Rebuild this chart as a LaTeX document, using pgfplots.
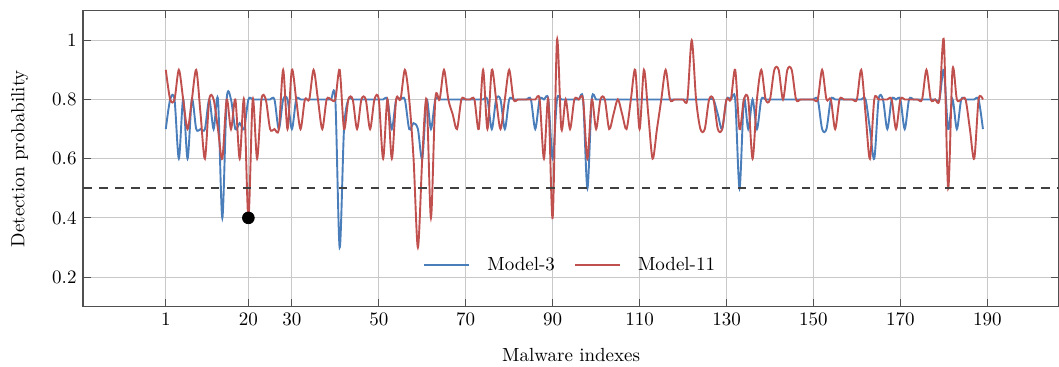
\documentclass[border=0pt]{standalone}
\usepackage{pgfplots}
\pgfplotsset{compat=1.18}
\usepackage{pgfplotstable}
\definecolor{mblue}{RGB}{74,126,187}
\definecolor{mred}{RGB}{192,80,77}
\definecolor{gridc}{RGB}{200,200,200}
\definecolor{axc}{RGB}{80,80,80}

\pgfplotstableread{
x y
1 0.7
2 0.8
3 0.8
4 0.6
5 0.8
6 0.6
7 0.8
8 0.7
9 0.7
10 0.7
11 0.8
12 0.7
13 0.8
14 0.4
15 0.8
16 0.8
17 0.7
18 0.72
19 0.7
20 0.8
21 0.8
22 0.8
23 0.8
24 0.8
25 0.8
26 0.8
27 0.7
28 0.8
29 0.8
30 0.7
31 0.8
32 0.8
33 0.8
34 0.8
35 0.8
36 0.8
37 0.8
38 0.8
39 0.8
40 0.8
41 0.3
42 0.7
43 0.8
44 0.8
45 0.8
46 0.8
47 0.8
48 0.8
49 0.8
50 0.8
51 0.8
52 0.8
53 0.7
54 0.8
55 0.8
56 0.8
57 0.7
58 0.72
59 0.7
60 0.6
61 0.8
62 0.7
63 0.8
64 0.8
65 0.8
66 0.8
67 0.8
68 0.8
69 0.8
70 0.8
71 0.8
72 0.8
73 0.8
74 0.8
75 0.8
76 0.7
77 0.8
78 0.8
79 0.7
80 0.8
81 0.8
82 0.8
83 0.8
84 0.8
85 0.8
86 0.7
87 0.8
88 0.8
89 0.8
90 0.6
91 0.8
92 0.8
93 0.8
94 0.8
95 0.8
96 0.8
97 0.8
98 0.5
99 0.8
100 0.8
101 0.8
102 0.8
103 0.8
104 0.8
105 0.8
106 0.8
107 0.8
108 0.8
109 0.8
110 0.8
111 0.8
112 0.8
113 0.8
114 0.8
115 0.8
116 0.8
117 0.8
118 0.8
119 0.8
120 0.8
121 0.8
122 0.8
123 0.8
124 0.8
125 0.8
126 0.8
127 0.8
128 0.75
129 0.7
130 0.8
131 0.8
132 0.8
133 0.5
134 0.8
135 0.7
136 0.8
137 0.7
138 0.8
139 0.8
140 0.8
141 0.8
142 0.8
143 0.8
144 0.8
145 0.8
146 0.8
147 0.8
148 0.8
149 0.8
150 0.8
151 0.8
152 0.7
153 0.7
154 0.8
155 0.8
156 0.8
157 0.8
158 0.8
159 0.8
160 0.8
161 0.8
162 0.8
163 0.7
164 0.6
165 0.8
166 0.8
167 0.7
168 0.8
169 0.8
170 0.8
171 0.7
172 0.8
173 0.8
174 0.8
175 0.8
176 0.8
177 0.8
178 0.8
179 0.8
180 0.9
181 0.7
182 0.8
183 0.7
184 0.8
185 0.8
186 0.8
187 0.8
188 0.8
189 0.7
}\modelthree

\pgfplotstableread{
x y
1 0.9
2 0.8
3 0.8
4 0.9
5 0.8
6 0.7
7 0.8
8 0.9
9 0.75
10 0.6
11 0.8
12 0.8
13 0.7
14 0.6
15 0.8
16 0.7
17 0.8
18 0.6
19 0.8
20 0.4
21 0.8
22 0.6
23 0.8
24 0.8
25 0.7
26 0.7
27 0.7
28 0.9
29 0.7
30 0.9
31 0.8
32 0.7
33 0.8
34 0.8
35 0.9
36 0.8
37 0.7
38 0.8
39 0.8
40 0.8
41 0.9
42 0.7
43 0.8
44 0.8
45 0.7
46 0.8
47 0.8
48 0.7
49 0.8
50 0.8
51 0.6
52 0.8
53 0.6
54 0.8
55 0.8
56 0.9
57 0.8
58 0.6
59 0.3
60 0.6
61 0.8
62 0.4
63 0.8
64 0.8
65 0.9
66 0.8
67 0.75
68 0.7
69 0.8
70 0.8
71 0.8
72 0.8
73 0.7
74 0.9
75 0.7
76 0.9
77 0.8
78 0.7
79 0.8
80 0.9
81 0.8
82 0.8
83 0.8
84 0.8
85 0.8
86 0.8
87 0.8
88 0.6
89 0.8
90 0.4
91 1.0
92 0.7
93 0.8
94 0.7
95 0.8
96 0.8
97 0.8
98 0.6
99 0.8
100 0.7
101 0.8
102 0.8
103 0.7
104 0.75
105 0.8
106 0.75
107 0.7
108 0.8
109 0.9
110 0.7
111 0.9
112 0.75
113 0.6
114 0.7
115 0.8
116 0.9
117 0.8
118 0.8
119 0.8
120 0.8
121 0.8
122 1.0
123 0.8
124 0.7
125 0.7
126 0.8
127 0.8
128 0.7
129 0.7
130 0.8
131 0.8
132 0.9
133 0.7
134 0.8
135 0.8
136 0.6
137 0.8
138 0.9
139 0.8
140 0.8
141 0.9
142 0.9
143 0.8
144 0.9
145 0.9
146 0.8
147 0.8
148 0.8
149 0.8
150 0.8
151 0.8
152 0.9
153 0.8
154 0.8
155 0.7
156 0.8
157 0.8
158 0.8
159 0.8
160 0.8
161 0.9
162 0.75
163 0.6
164 0.8
165 0.8
166 0.8
167 0.8
168 0.8
169 0.7
170 0.8
171 0.8
172 0.8
173 0.8
174 0.8
175 0.8
176 0.9
177 0.8
178 0.8
179 0.8
180 1.0
181 0.5
182 0.9
183 0.8
184 0.8
185 0.8
186 0.7
187 0.6
188 0.8
189 0.8
}\modeleleven

\begin{document}
\begin{tikzpicture}
\begin{axis}[
  scale only axis,
  width=513.5pt, height=155.8pt,
  xmin=-18, xmax=206.5,
  ymin=0.1, ymax=1.1,
  xtick={1,20,30,50,70,90,110,130,150,170,190},
  ytick={0.2,0.4,0.6,0.8,1},
  yticklabels={0.2,0.4,0.6,0.8,1},
  tick align=inside,
  major tick length=4pt,
  grid=major,
  major grid style={gridc, line width=0.6pt},
  axis line style={axc, line width=0.8pt},
  tick style={axc, line width=0.6pt},
  xlabel={Malware indexes},
  ylabel={Detection probability},
  xlabel style={yshift=-5pt},
  ylabel style={yshift=5.7pt},
  legend style={draw=none, fill=none, at={(0.5,0.141)}, anchor=center,
    legend columns=2, font=\normalsize,
    /tikz/every odd column/.append style={column sep=7pt},
    /tikz/every even column/.append style={column sep=8pt}},
  legend image code/.code={\draw[#1] (0pt,0pt) -- (23.7pt,0pt);},
]
\addplot[mblue, line width=1pt, smooth, tension=0.5] table[x=x,y=y] {\modelthree};
\addlegendentry{Model-3}
\addplot[mred, line width=1pt, smooth, tension=0.5] table[x=x,y=y] {\modeleleven};
\addlegendentry{Model-11}
\addplot[black!75, line width=1.1pt, dash pattern=on 4.5pt off 3.9pt, forget plot] coordinates {(-18,0.5) (206.5,0.5)};
\addplot[only marks, mark=*, mark size=3.1pt, black, forget plot] coordinates {(20,0.4)};
\end{axis}
\pgfresetboundingbox
\path ([xshift=-43.8pt,yshift=-31.7pt]current axis.south west) rectangle ([yshift=5.6pt]current axis.north east);
\end{tikzpicture}
\end{document}
